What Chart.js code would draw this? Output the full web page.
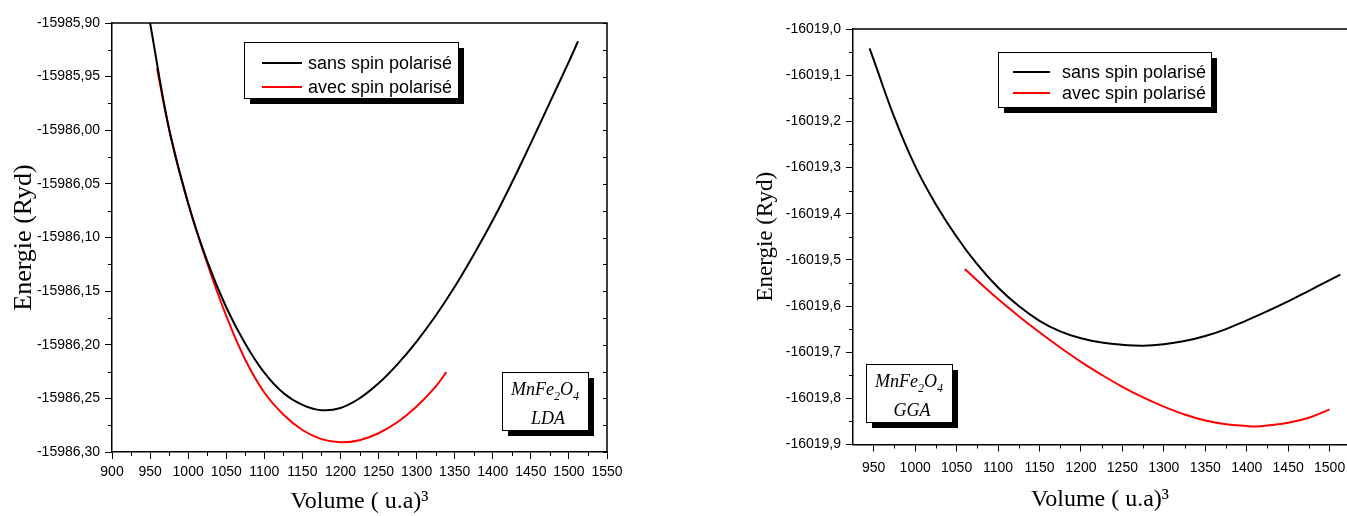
<!DOCTYPE html>
<html>
<head>
<meta charset="utf-8">
<script src="https://cdn.jsdelivr.net/npm/chart.js@4.4.0/dist/chart.umd.min.js"></script>
<style>
  html, body { margin: 0; padding: 0; background: #fff; overflow: hidden; width: 1347px; height: 516px; }
  .panel { position: absolute; top: 0; height: 516px; }
  #ldaWrap { left: 0; width: 640px; }
  #ggaWrap { left: 680px; width: 700px; }
</style>
</head>
<body>
<div class="panel" id="ldaWrap"><canvas id="ldaChart"></canvas></div>
<div class="panel" id="ggaWrap"><canvas id="ggaChart"></canvas></div>
<script>
// ---- data ----
const seriesLabels = ['sans spin polarisé', 'avec spin polarisé'];

// LDA panel
const ldaVolSans = [950, 975, 1000, 1025, 1050, 1075, 1100, 1125, 1150, 1175, 1200, 1225, 1250, 1275, 1300, 1325, 1350, 1375, 1400, 1425, 1450, 1475, 1500, 1512];
const ldaEnSans = [-15985.900, -15985.999, -15986.068, -15986.122, -15986.165, -15986.199, -15986.226, -15986.245, -15986.256, -15986.261, -15986.259, -15986.250, -15986.236, -15986.218, -15986.197, -15986.173, -15986.146, -15986.116, -15986.084, -15986.049, -15986.012, -15985.974, -15985.936, -15985.917];
const ldaVolAvec = [959, 975, 1000, 1025, 1050, 1075, 1100, 1125, 1150, 1175, 1200, 1225, 1250, 1275, 1300, 1325, 1339];
const ldaEnAvec = [-15985.942, -15985.999, -15986.068, -15986.124, -15986.173, -15986.214, -15986.2445, -15986.265, -15986.2795, -15986.288, -15986.291, -15986.289, -15986.2825, -15986.272, -15986.2575, -15986.239, -15986.2255];
const ldaXTicks = [900, 950, 1000, 1050, 1100, 1150, 1200, 1250, 1300, 1350, 1400, 1450, 1500, 1550];
const ldaYTicks = [-15986.30, -15986.25, -15986.20, -15986.15, -15986.10, -15986.05, -15986.00, -15985.95, -15985.90];

// GGA panel
const ggaVolSans = [945, 950, 975, 1000, 1025, 1050, 1075, 1100, 1125, 1150, 1175, 1200, 1225, 1250, 1275, 1300, 1325, 1350, 1375, 1400, 1425, 1450, 1475, 1500, 1513];
const ggaEnSans = [-16019.042, -16019.067, -16019.192, -16019.297, -16019.380, -16019.450, -16019.510, -16019.560, -16019.600, -16019.632, -16019.655, -16019.670, -16019.679, -16019.684, -16019.686, -16019.683, -16019.676, -16019.665, -16019.650, -16019.631, -16019.611, -16019.590, -16019.567, -16019.544, -16019.532];
const ggaVolAvec = [1060, 1075, 1100, 1125, 1150, 1175, 1200, 1225, 1250, 1275, 1300, 1325, 1350, 1375, 1400, 1410, 1425, 1450, 1475, 1500];
const ggaEnAvec = [-16019.520, -16019.545, -16019.585, -16019.622, -16019.657, -16019.690, -16019.721, -16019.749, -16019.775, -16019.798, -16019.818, -16019.835, -16019.848, -16019.856, -16019.860, -16019.861, -16019.859, -16019.853, -16019.842, -16019.824];
const ggaXTicks = [950, 1000, 1050, 1100, 1150, 1200, 1250, 1300, 1350, 1400, 1450, 1500];
const ggaYTicks = [-16019.9, -16019.8, -16019.7, -16019.6, -16019.5, -16019.4, -16019.3, -16019.2, -16019.1, -16019.0];

const SANS = "'Liberation Sans', Arial, sans-serif";
const SERIF = "'Liberation Serif', 'Times New Roman', serif";

const toPoints = (xs, ys) => xs.map((x, i) => ({ x: x, y: ys[i] }));
const midpoints = arr => arr.slice(1).map((v, i) => (v + arr[i]) / 2);

// frame, minor ticks, legend box and formula box
const extrasPlugin = {
    id: 'extras',
    afterDraw(chart, args, o) {
        const ctx = chart.ctx, a = chart.chartArea;
        const xs = chart.scales.x, ys = chart.scales.y;
        ctx.save();

        // top / right frame
        ctx.strokeStyle = '#000';
        ctx.lineWidth = 1.5;
        ctx.beginPath();
        ctx.moveTo(a.left, a.top);
        ctx.lineTo(a.right, a.top);
        if (o.rightFrame) ctx.lineTo(a.right, a.bottom);
        ctx.stroke();

        // minor ticks
        ctx.lineWidth = 1;
        ctx.beginPath();
        midpoints(o.xTicks).forEach(v => {
            const px = Math.round(xs.getPixelForValue(v)) + 0.5;
            ctx.moveTo(px, a.bottom); ctx.lineTo(px, a.bottom + 4);
        });
        midpoints(o.yTicks).forEach(v => {
            const py = Math.round(ys.getPixelForValue(v)) + 0.5;
            ctx.moveTo(a.left, py); ctx.lineTo(a.left - 4, py);
        });
        if (o.rightFrame) {
            o.yTicks.concat(midpoints(o.yTicks)).forEach(v => {
                const py = Math.round(ys.getPixelForValue(v)) + 0.5;
                ctx.moveTo(a.right, py); ctx.lineTo(a.right - 4, py);
            });
        }
        ctx.stroke();

        // legend
        const L = o.legend;
        ctx.fillStyle = '#000';
        ctx.fillRect(L.x + 6, L.y + 6, L.w, L.h);
        ctx.fillStyle = '#fff';
        ctx.fillRect(L.x, L.y, L.w, L.h);
        ctx.strokeStyle = '#000';
        ctx.lineWidth = 1;
        ctx.strokeRect(L.x + 0.5, L.y + 0.5, L.w, L.h);
        ctx.font = '18px ' + SANS;
        ctx.textBaseline = 'middle';
        chart.data.datasets.forEach((ds, i) => {
            const y = L.y + L.row0 + i * L.gap;
            ctx.strokeStyle = ds.borderColor;
            ctx.lineWidth = 2;
            ctx.beginPath();
            ctx.moveTo(L.x + L.lineX0, y); ctx.lineTo(L.x + L.lineX1, y);
            ctx.stroke();
            ctx.fillStyle = '#000';
            ctx.textAlign = 'left';
            ctx.fillText(ds.label, L.x + L.textX, y + 1);
        });

        // compound / method box
        const B = o.box;
        ctx.fillStyle = '#000';
        ctx.fillRect(B.x + 6, B.y + 6, B.w, B.h);
        ctx.fillStyle = '#fff';
        ctx.fillRect(B.x, B.y, B.w, B.h);
        ctx.strokeStyle = '#000';
        ctx.lineWidth = 1;
        ctx.strokeRect(B.x + 0.5, B.y + 0.5, B.w, B.h);
        ctx.fillStyle = '#000';
        ctx.textBaseline = 'alphabetic';
        const big = 'italic 18px ' + SERIF, small = 'italic 12px ' + SERIF;
        const parts = [['MnFe', big, 0], ['2', small, 5], ['O', big, 0], ['4', small, 5]];
        let total = 0;
        parts.forEach(p => { ctx.font = p[1]; total += ctx.measureText(p[0]).width; });
        let x = B.x + B.w / 2 - total / 2;
        ctx.textAlign = 'left';
        parts.forEach(p => {
            ctx.font = p[1];
            ctx.fillText(p[0], x, B.y + 23 + p[2]);
            x += ctx.measureText(p[0]).width;
        });
        ctx.font = 'italic 18px ' + SERIF;
        ctx.textAlign = 'center';
        ctx.fillText(o.method, B.x + B.w / 2 + 3, B.y + 52);

        ctx.restore();
    }
};

function makeChart(id, cfg) {
    const axisFont = { family: SANS, size: 14 };
    const line = { borderWidth: 2, pointRadius: 0, tension: 0.4, cubicInterpolationMode: 'default' };
    return new Chart(document.getElementById(id), {
        type: 'line',
        data: {
            datasets: [
                Object.assign({ label: seriesLabels[0], data: cfg.sans, borderColor: '#000000' }, line),
                Object.assign({ label: seriesLabels[1], data: cfg.avec, borderColor: '#ff0000' }, line)
            ]
        },
        options: {
            responsive: true,
            maintainAspectRatio: false,
            animation: false,
            devicePixelRatio: 1,
            layout: { padding: cfg.padding },
            plugins: {
                legend: { display: false },
                tooltip: { enabled: false },
                extras: cfg.extras
            },
            scales: {
                x: {
                    type: 'linear',
                    min: cfg.xMin, max: cfg.xMax,
                    afterBuildTicks: s => { s.ticks = cfg.extras.xTicks.map(v => ({ value: v })); },
                    afterFit: s => { s.height = cfg.xHeight; },
                    grid: { drawOnChartArea: false, tickLength: 7, tickColor: '#000', tickWidth: 1 },
                    border: { color: '#000', width: 1.5 },
                    ticks: { color: '#000', font: axisFont, padding: cfg.xPad, maxRotation: 0, autoSkip: false, callback: v => String(v) },
                    title: { display: true, text: 'Volume ( u.a)³', color: '#000', font: { family: SERIF, size: 24 }, padding: { top: 0, bottom: cfg.xTitlePad } }
                },
                y: {
                    min: cfg.yMin, max: cfg.yMax,
                    afterBuildTicks: s => { s.ticks = cfg.extras.yTicks.map(v => ({ value: v })); },
                    afterFit: s => { s.width = cfg.yWidth; },
                    grid: { drawOnChartArea: false, tickLength: 7, tickColor: '#000', tickWidth: 1 },
                    border: { color: '#000', width: 1.5 },
                    ticks: { color: '#000', font: axisFont, padding: 5, autoSkip: false, callback: v => v.toFixed(cfg.dec).replace('.', ',') },
                    title: { display: true, text: 'Energie (Ryd)', color: '#000', font: { family: SERIF, size: cfg.yTitleSize }, padding: { top: cfg.yTitlePad, bottom: 0 } }
                }
            }
        },
        plugins: [extrasPlugin]
    });
}

makeChart('ldaChart', {
    sans: toPoints(ldaVolSans, ldaEnSans),
    avec: toPoints(ldaVolAvec, ldaEnAvec),
    xMin: 900, xMax: 1550, yMin: -15986.30, yMax: -15985.90, dec: 2,
    padding: { left: 0, top: 23, right: 33, bottom: 0 },
    xHeight: 64, yWidth: 112, xPad: 5, xTitlePad: 0, yTitlePad: 9, yTitleSize: 26,
    extras: {
        xTicks: ldaXTicks, yTicks: ldaYTicks, rightFrame: true, method: 'LDA',
        legend: { x: 244, y: 42, w: 214, h: 56, row0: 21, gap: 24, lineX0: 18, lineX1: 58, textX: 64 },
        box: { x: 502, y: 372, w: 86, h: 58 }
    }
});

makeChart('ggaChart', {
    sans: toPoints(ggaVolSans, ggaEnSans),
    avec: toPoints(ggaVolAvec, ggaEnAvec),
    xMin: 925, xMax: 1521, yMin: -16019.9, yMax: -16019.0, dec: 1,
    padding: { left: 0, top: 29, right: 33, bottom: 0 },
    xHeight: 71.5, yWidth: 173, xPad: 8, xTitlePad: 2, yTitlePad: 72, yTitleSize: 23,
    extras: {
        xTicks: ggaXTicks, yTicks: ggaYTicks, rightFrame: false, method: 'GGA',
        legend: { x: 318, y: 52, w: 213, h: 55, row0: 20, gap: 21, lineX0: 15, lineX1: 52, textX: 64 },
        box: { x: 186, y: 364, w: 86, h: 58 }
    }
});
</script>
</body>
</html>
